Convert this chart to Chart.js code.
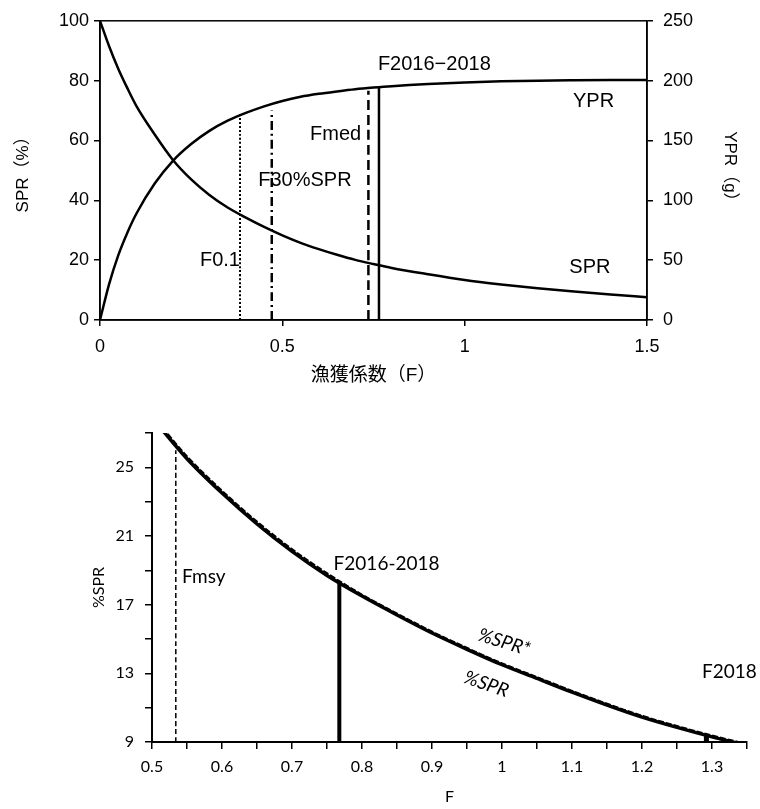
<!DOCTYPE html>
<html>
<head>
<meta charset="utf-8">
<script src="https://cdn.jsdelivr.net/npm/chart.js@4"></script>
<style>
  html, body { margin: 0; padding: 0; background: #fff; }
  #wrap { position: relative; width: 760px; height: 809px; }
  #topBox { position: absolute; left: 0; top: 0; width: 760px; height: 392px; }
  #lowBox { position: absolute; left: 0; top: 392px; width: 760px; height: 417px; }
</style>
</head>
<body>
<div id="wrap">
  <div id="topBox"><canvas id="yprChart" width="760" height="392"></canvas></div>
  <div id="lowBox"><canvas id="sprChart" width="760" height="417"></canvas></div>
</div>
<script>
// SPR・YPR 曲線（漁獲係数 F）
const fGrid = [0, 0.025, 0.05, 0.075, 0.1, 0.15, 0.2, 0.25, 0.3, 0.35, 0.4, 0.45, 0.5, 0.55, 0.6, 0.65, 0.7, 0.75, 0.8, 0.9, 1.0, 1.1, 1.2, 1.3, 1.4, 1.5];
const sprPct = [100, 91.5, 84, 77.5, 71.5, 62, 53.5, 47, 41.8, 37.6, 34.2, 31.1, 28.3, 25.8, 23.7, 21.8, 20.1, 18.7, 17.4, 15.3, 13.4, 11.9, 10.6, 9.5, 8.5, 7.6];
const yprGram = [0, 30, 54, 73, 89, 114, 133, 147, 158, 166.5, 173, 178.5, 183, 186.5, 189, 191, 192.8, 194.2, 195.4, 197.2, 198.5, 199.4, 200, 200.3, 200.5, 200.6];

// 管理基準値の縦線（上端は SPR 軸の値）
const refNames = ['F0.1', 'F30%SPR', 'Fmed', 'F2016−2018'];
const refF = [0.384, 0.471, 0.736, 0.765];
const refTop = [68.9, 70, 76.6, 78];

const topNoteText = ['F2016−2018', 'YPR', 'SPR', 'Fmed', 'F30%SPR', 'F0.1'];
const topNoteF = [0.762, 1.297, 1.287, 0.576, 0.434, 0.274];
const topNoteV = [85.5, 73.1, 17.5, 62.0, 46.5, 19.9];

// %SPR 拡大図
const fZoom = [0.5, 0.55, 0.6, 0.65, 0.7, 0.75, 0.8, 0.85, 0.9, 0.95, 1.0, 1.05, 1.1, 1.15, 1.2, 1.25, 1.3, 1.35];
const sprZoom = [27.9, 25.5, 23.5, 21.7, 20.1, 18.7, 17.5, 16.4, 15.35, 14.4, 13.5, 12.7, 11.9, 11.15, 10.45, 9.85, 9.3, 8.8];
const sprStarZoom = [28.0, 25.6, 23.6, 21.8, 20.2, 18.8, 17.55, 16.45, 15.4, 14.45, 13.55, 12.75, 11.95, 11.2, 10.5, 9.9, 9.35, 8.85];

const markNames = ['Fmsy', 'F2016-2018', 'F2018'];
const markF = [0.534, 0.7676, 1.292];
const markTop = [26.0, 18.2, 9.4];

const lowNoteText = ['Fmsy', 'F2016-2018', 'F2018', '%SPR*', '%SPR'];
const lowNoteF = [0.543, 0.7594, 1.2857, 1.003, 0.9776];
const lowNoteV = [18.62, 19.4, 13.08, 14.81, 12.37];

const jpFont = '"Liberation Sans", "Noto Sans CJK JP", sans-serif';
const latinFont = 'Lato, "Open Sans", sans-serif';

const pts = (xs, ys) => xs.map((x, i) => ({ x: x, y: ys[i] }));

// 文字ラベル（データ座標で配置）
const notesPlugin = {
  id: 'notes',
  afterDatasetsDraw(chart, args, opts) {
    const { ctx, scales } = chart;
    ctx.save();
    ctx.fillStyle = '#000';
    ctx.textBaseline = 'middle';
    opts.items.forEach(n => {
      const px = scales.x.getPixelForValue(n.f);
      const py = scales.y.getPixelForValue(n.v);
      ctx.font = n.font;
      ctx.save();
      ctx.translate(px, py);
      if (n.angle) ctx.rotate(n.angle * Math.PI / 180);
      ctx.textAlign = n.align || 'left';
      ctx.fillText(n.text, 0, 0);
      ctx.restore();
    });
    ctx.restore();
  }
};

// 上図の外枠
const framePlugin = {
  id: 'frame',
  afterDraw(chart) {
    const { ctx, chartArea: a } = chart;
    ctx.save();
    ctx.strokeStyle = '#000';
    ctx.lineWidth = 1.5;
    ctx.strokeRect(a.left, a.top, a.right - a.left, a.bottom - a.top);
    ctx.restore();
  }
};

const refStyles = [
  { borderDash: [2, 2], borderWidth: 2 },
  { borderDash: [9, 4, 2, 4], borderWidth: 2.5 },
  { borderDash: [10, 5], borderWidth: 2.5 },
  { borderDash: [], borderWidth: 2.5 }
];

const topDatasets = [
  { label: 'SPR', data: pts(fGrid, sprPct), yAxisID: 'y', borderWidth: 2.5 },
  { label: 'YPR', data: pts(fGrid, yprGram), yAxisID: 'y2', borderWidth: 2.5 }
];
refNames.forEach((name, i) => {
  topDatasets.push(Object.assign({
    label: name,
    data: [{ x: refF[i], y: 0 }, { x: refF[i], y: refTop[i] }],
    yAxisID: 'y'
  }, refStyles[i]));
});
topDatasets.forEach(d => {
  d.borderColor = '#000';
  d.pointRadius = 0;
  d.fill = false;
  d.cubicInterpolationMode = 'monotone';
});

const axisLine = { color: '#000', width: 1.5 };
const tickGrid = { drawOnChartArea: false, color: '#000', lineWidth: 1.5, tickLength: 6 };
const topTick = { family: jpFont, size: 18 };

new Chart(document.getElementById('yprChart'), {
  type: 'line',
  data: { datasets: topDatasets },
  options: {
    responsive: false,
    animation: false,
    layout: { padding: { top: 19, left: 0, right: 0, bottom: 0 } },
    plugins: {
      legend: { display: false },
      tooltip: { enabled: false },
      notes: {
        items: topNoteText.map((t, i) => ({
          text: t, f: topNoteF[i], v: topNoteV[i], font: '20px ' + jpFont
        }))
      }
    },
    scales: {
      x: {
        type: 'linear', min: 0, max: 1.5,
        ticks: { stepSize: 0.5, callback: v => String(v), color: '#000', font: topTick, padding: 10, maxRotation: 0 },
        grid: tickGrid, border: axisLine,
        title: { display: true, text: '漁獲係数（F）', color: '#000', font: { family: jpFont, size: 19 }, padding: { top: 0, bottom: 5 } },
        afterFit: s => { s.height = 72; }
      },
      y: {
        position: 'left', min: 0, max: 100,
        ticks: { stepSize: 20, color: '#000', font: topTick, padding: 5 },
        grid: tickGrid, border: axisLine,
        title: { display: true, text: 'SPR（%）', color: '#000', font: { family: jpFont, size: 17 }, padding: { top: 13, bottom: 0 } },
        afterFit: s => { s.width = 100; }
      },
      y2: {
        position: 'right', min: 0, max: 250,
        ticks: { stepSize: 50, color: '#000', font: topTick, padding: 10 },
        grid: tickGrid, border: axisLine,
        title: { display: true, text: 'YPR（g）', color: '#000', font: { family: jpFont, size: 17 }, padding: { top: 20, bottom: 0 } },
        afterFit: s => { s.width = 113; }
      }
    }
  },
  plugins: [notesPlugin, framePlugin]
});

// 下図
const lowDatasets = [
  { label: '%SPR', data: pts(fZoom, sprZoom), borderWidth: 3.5, borderDash: [] },
  { label: '%SPR*', data: pts(fZoom, sprStarZoom), borderWidth: 3, borderDash: [6, 2] }
];
const markStyles = [
  { borderDash: [5, 3], borderWidth: 1.5 },
  { borderDash: [], borderWidth: 4 },
  { borderDash: [], borderWidth: 5 }
];
markNames.forEach((name, i) => {
  lowDatasets.push(Object.assign({
    label: name,
    data: [{ x: markF[i], y: 9 }, { x: markF[i], y: markTop[i] }]
  }, markStyles[i]));
});
lowDatasets.forEach(d => {
  d.borderColor = '#000';
  d.pointRadius = 0;
  d.fill = false;
  d.cubicInterpolationMode = 'monotone';
});

const lowAngles = [0, 0, 0, 17, 19];

new Chart(document.getElementById('sprChart'), {
  type: 'line',
  data: { datasets: lowDatasets },
  options: {
    responsive: false,
    animation: false,
    layout: { padding: { top: 41, left: 0, right: 13, bottom: 0 } },
    plugins: {
      legend: { display: false },
      tooltip: { enabled: false },
      notes: {
        items: lowNoteText.map((t, i) => ({
          text: t, f: lowNoteF[i], v: lowNoteV[i],
          angle: lowAngles[i],
          align: lowAngles[i] ? 'center' : 'left',
          font: (lowAngles[i] ? 'italic ' : '') + '19px ' + latinFont
        }))
      }
    },
    scales: {
      x: {
        type: 'linear', min: 0.5, max: 1.35,
        ticks: {
          stepSize: 0.05, color: '#000', font: { family: latinFont, size: 16 }, padding: 8, maxRotation: 0, autoSkip: false,
          callback: v => { const r = Math.round(v * 100); return r % 10 === 0 ? String(r / 100) : ''; }
        },
        grid: { drawOnChartArea: false, color: '#000', lineWidth: 1.5, tickLength: 7 },
        border: { color: '#000', width: 2 },
        title: { display: true, text: 'F', color: '#000', font: { family: latinFont, size: 16 }, padding: { top: 0, bottom: 3 } },
        afterFit: s => { s.height = 67; }
      },
      y: {
        min: 9, max: 27,
        ticks: {
          stepSize: 2, color: '#000', font: { family: latinFont, size: 16 }, padding: 11, autoSkip: false,
          callback: v => ((v - 9) % 4 === 0 ? String(v) : '')
        },
        grid: { drawOnChartArea: false, color: '#000', lineWidth: 1.5, tickLength: 7 },
        border: { color: '#000', width: 2 },
        title: { display: true, text: '%SPR', color: '#000', font: { family: latinFont, size: 16 }, padding: { top: 89, bottom: 0 } },
        afterFit: s => { s.width = 152; }
      }
    }
  },
  plugins: [notesPlugin]
});
</script>
</body>
</html>
